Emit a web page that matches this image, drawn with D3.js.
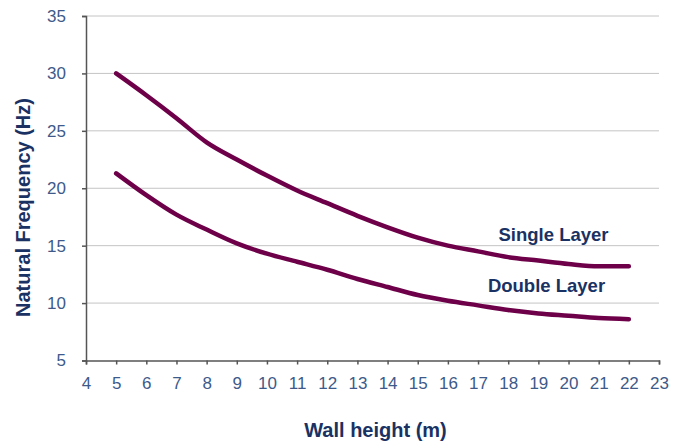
<!DOCTYPE html>
<html><head><meta charset="utf-8">
<script src="https://cdn.jsdelivr.net/npm/d3@7"></script>
<style>body{margin:0;background:#fff;} svg{display:block;font-family:"Liberation Sans",Arial,sans-serif;}</style>
</head><body><svg id="c" width="681" height="443"></svg>
<script>
const wallHeight = [5,6,7,8,9,10,11,12,13,14,15,16,17,18,19,20,21,22];
const singleLayer = [30.0,28.1,26.1,24.0,22.5,21.1,19.8,18.7,17.6,16.6,15.7,15.0,14.5,14.0,13.7,13.4,13.2,13.2];
const doubleLayer = [21.3,19.4,17.7,16.4,15.2,14.3,13.6,12.9,12.1,11.4,10.7,10.2,9.8,9.4,9.1,8.9,8.7,8.6];
const xTicks = d3.range(4,24);
const yTicks = [5,10,15,20,25,30,35];
const seriesLabels = ["Single Layer","Double Layer"];

const svg = d3.select("#c");
const x = d3.scaleLinear().domain([4,23]).range([86,659]);
const y = d3.scaleLinear().domain([5,35]).range([360.5,16]);
const tickColor = "#3d5a8a", navy = "#1a3263", lineColor = "#6d0048";

// gridlines
svg.append("g").selectAll("line").data(yTicks.filter(d=>d>5)).join("line")
  .attr("x1",86).attr("x2",659).attr("y1",d=>y(d)).attr("y2",d=>y(d))
  .attr("stroke","#c4c4c4").attr("stroke-width",1);

// y axis
const ya = svg.append("g").attr("transform","translate(86,0)")
  .call(d3.axisLeft(y).tickValues(yTicks).tickSize(4).tickPadding(16));
ya.select(".domain").attr("stroke","#555").attr("stroke-width",1.5);
ya.selectAll(".tick line").attr("stroke","#555").attr("stroke-width",1.5);
ya.selectAll("text").attr("fill",tickColor).style("font-size","17px");

// x axis
const xa = svg.append("g").attr("transform","translate(0,360.5)")
  .call(d3.axisBottom(x).tickValues(xTicks).tickSize(4).tickPadding(12));
xa.select(".domain").attr("stroke","#555").attr("stroke-width",1.5);
xa.selectAll(".tick line").attr("stroke","#555").attr("stroke-width",1.5);
xa.selectAll("text").attr("fill",tickColor).style("font-size","17px");

// lines
const line = d3.line().x(d=>x(d[0])).y(d=>y(d[1])).curve(d3.curveMonotoneX);
[singleLayer, doubleLayer].forEach(s=>{
  svg.append("path").datum(wallHeight.map((h,i)=>[h,s[i]]))
    .attr("d",line).attr("fill","none").attr("stroke",lineColor)
    .attr("stroke-width",4.5).attr("stroke-linecap","round").attr("stroke-linejoin","round");
});

// series labels
svg.append("text").attr("x",553.5).attr("y",240.5).attr("text-anchor","middle")
  .attr("fill",navy).style("font-size","18.5px").style("font-weight","bold").text(seriesLabels[0]);
svg.append("text").attr("x",546.5).attr("y",292).attr("text-anchor","middle")
  .attr("fill",navy).style("font-size","18.5px").style("font-weight","bold").text(seriesLabels[1]);

// axis titles
svg.append("text").attr("x",375.5).attr("y",437).attr("text-anchor","middle")
  .attr("fill",navy).style("font-size","20px").style("font-weight","bold").text("Wall height (m)");
svg.append("text").attr("transform","translate(30,207.5) rotate(-90)").attr("text-anchor","middle")
  .attr("fill",navy).style("font-size","20px").style("font-weight","bold").text("Natural Frequency (Hz)");
</script></body></html>
